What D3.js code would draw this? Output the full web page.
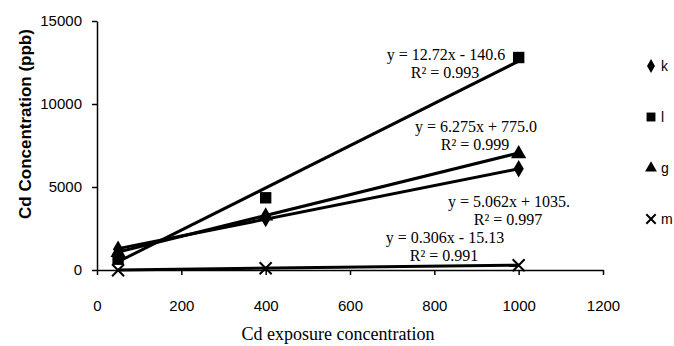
<!DOCTYPE html>
<html>
<head>
<meta charset="utf-8">
<script src="https://cdn.jsdelivr.net/npm/d3@7"></script>
<style>
  body { margin: 0; background: #fff; }
  svg { display: block; }
</style>
</head>
<body>
<div id="chart"></div>
<script>
// exposure concentrations (x)
const exposure = [50, 400, 1000];

// series names, in legend order
const seriesNames = ["k", "l", "g", "m"];

const kValues = [1250, 3100, 6100];
const lValues = [650, 4350, 12800];
const gValues = [1050, 3250, 7000];
const mValues = [-20, 110, 290];

// trendline coefficients and labels
const slopes     = [5.062, 12.72, 6.275, 0.306];
const intercepts = [1035, -140.6, 775.0, -15.13];
const eqLabels   = ["y = 5.062x + 1035.", "y = 12.72x - 140.6", "y = 6.275x + 775.0", "y = 0.306x - 15.13"];
const r2Labels   = ["R² = 0.997", "R² = 0.993", "R² = 0.999", "R² = 0.991"];

const xTicks = [0, 200, 400, 600, 800, 1000, 1200];
const yTicks = [0, 5000, 10000, 15000];

const width = 674, height = 346;

const svg = d3.select("#chart").append("svg")
  .attr("width", width)
  .attr("height", height);

const x = d3.scaleLinear().domain([0, 1200]).range([97, 603]);
const y = d3.scaleLinear().domain([0, 15000]).range([270, 21]);

const allValues = [kValues, lValues, gValues, mValues];
const series = seriesNames.map((name, i) => ({
  name,
  points: exposure.map((e, j) => ({ x: e, y: allValues[i][j] })),
  slope: slopes[i],
  intercept: intercepts[i],
  eq: eqLabels[i],
  r2: r2Labels[i]
}));

// axes
const xAxis = svg.append("g")
  .attr("transform", `translate(0, ${y(0)})`)
  .call(d3.axisBottom(x).tickValues(xTicks).tickFormat(d3.format("d"))
    .tickSize(5).tickSizeOuter(0).tickPadding(25));
const yAxis = svg.append("g")
  .attr("transform", `translate(${x(0)}, 0)`)
  .call(d3.axisLeft(y).tickValues(yTicks).tickFormat(d3.format("d"))
    .tickSize(5).tickSizeOuter(0).tickPadding(10));

[xAxis, yAxis].forEach(a => {
  a.select(".domain").attr("stroke", "#000").attr("stroke-width", 1.5);
  a.selectAll(".tick line").attr("stroke", "#000").attr("stroke-width", 1.5);
  a.selectAll("text")
    .attr("fill", "#000")
    .style("font-family", "'Liberation Sans', Arial, sans-serif")
    .style("font-size", "15px");
});

// trendlines
svg.append("g").selectAll("line")
  .data(series)
  .join("line")
    .attr("x1", d => x(exposure[0]))
    .attr("y1", d => y(d.slope * exposure[0] + d.intercept))
    .attr("x2", d => x(exposure[exposure.length - 1]))
    .attr("y2", d => y(d.slope * exposure[exposure.length - 1] + d.intercept))
    .attr("stroke", "#000")
    .attr("stroke-width", 3);

// marker shapes
const drawMarker = (g, name, scale) => {
  const sizes = { k: 90, l: 130, g: 100 };
  const types = { k: d3.symbolDiamond, l: d3.symbolSquare, g: d3.symbolTriangle };
  if (name === "m") {
    const r = 6 * scale;
    g.append("path")
      .attr("d", `M${-r},${-r}L${r},${r}M${-r},${r}L${r},${-r}`)
      .attr("stroke", "#000")
      .attr("stroke-width", 2)
      .attr("fill", "none");
  } else {
    g.append("path")
      .attr("d", d3.symbol(types[name], sizes[name] * scale * scale)())
      .attr("fill", "#000");
  }
};

series.forEach(s => {
  svg.append("g").selectAll("g")
    .data(s.points)
    .join("g")
      .attr("transform", d => `translate(${x(d.x)}, ${y(d.y)})`)
      .each(function() { drawMarker(d3.select(this), s.name, 1); });
});

// equation labels
const labelPos = {
  l: [446, 55],
  g: [476, 127],
  k: [509, 202],
  m: [445, 238]
};
series.forEach(s => {
  const [lx, ly] = labelPos[s.name];
  const t = svg.append("text")
    .attr("text-anchor", "middle")
    .style("font-family", "'Liberation Serif', 'Times New Roman', serif")
    .style("font-size", "16px")
    .attr("fill", "#000");
  t.append("tspan").attr("x", lx).attr("y", ly + 5).text(s.eq);
  t.append("tspan").attr("x", lx - 1).attr("y", ly + 23).text(s.r2);
});

// legend
const legend = svg.append("g").selectAll("g")
  .data(series)
  .join("g")
    .attr("transform", (d, i) => `translate(651, ${66 + i * 51})`);
legend.each(function(d) { drawMarker(d3.select(this), d.name, 0.78); });
legend.append("text")
  .attr("x", 10)
  .attr("y", 5)
  .style("font-family", "'Liberation Sans', Arial, sans-serif")
  .style("font-size", "14px")
  .text(d => d.name);

// axis titles
svg.append("text")
  .attr("x", 338)
  .attr("y", 340)
  .attr("text-anchor", "middle")
  .style("font-family", "'Liberation Serif', 'Times New Roman', serif")
  .style("font-size", "18px")
  .text("Cd exposure concentration");

svg.append("text")
  .attr("transform", "translate(31, 124) rotate(-90)")
  .attr("text-anchor", "middle")
  .style("font-family", "'Liberation Sans', Arial, sans-serif")
  .style("font-size", "17px")
  .style("font-weight", "bold")
  .text("Cd Concentration (ppb)");
</script>
</body>
</html>
